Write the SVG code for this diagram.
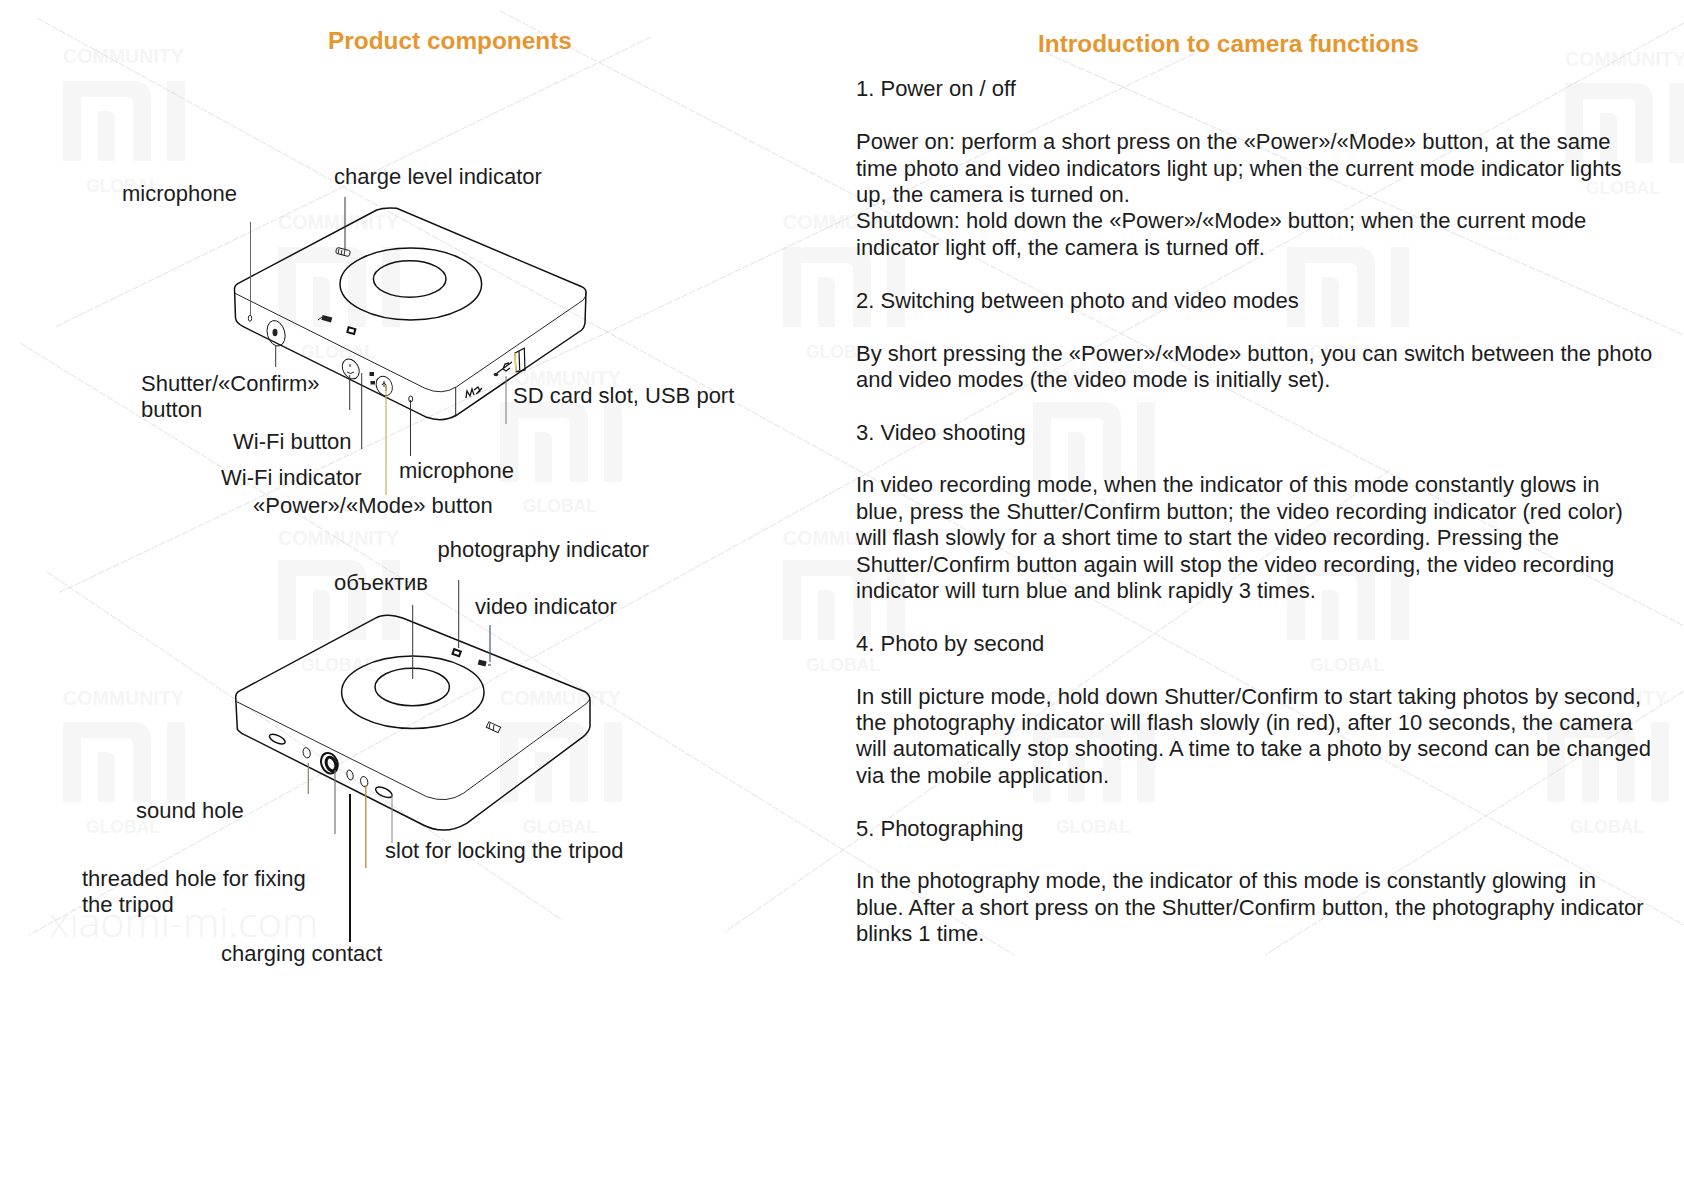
<svg xmlns="http://www.w3.org/2000/svg" width="1684" height="1191" viewBox="0 0 1684 1191">
<style>
text{font-family:"Liberation Sans",Arial,sans-serif;fill:#1c1c1c;font-size:22px}
.h{font-weight:700;fill:#e6962f;font-size:24.4px}
.wm{font-weight:700;fill:#f5f5f5;font-size:19.6px}
.wg{font-weight:700;fill:#f5f5f5;font-size:17.5px}
.url{fill:#f3f3f3;font-size:41px;font-family:"Open Sans","Liberation Sans",sans-serif;font-weight:300}
.logo{fill:#f6f6f6}
.mesh line{stroke:#d9d9d9;stroke-width:.8;stroke-dasharray:7 1.5}
.dv path,.dv ellipse,.dv rect{fill:none;stroke:#111;stroke-width:1.5}
.dv .thin{stroke-width:.9}
.dv .f{fill:#222;stroke:none}
.ld line{stroke:#333;stroke-width:1}
</style>
<defs>
<path id="mi" class="logo" fill-rule="evenodd" d="M0,0H70Q88,0 88,18V80H70V22Q70,16 64,16H18V80H0ZM35,30H44Q52,30 52,38V80H35ZM104,0H122V80H104Z"/>
</defs>
<rect width="1684" height="1191" fill="#fff"/>
<g id="watermark">
<use href="#mi" x="63" y="81"/><use href="#mi" x="278" y="247"/><use href="#mi" x="783" y="247"/><use href="#mi" x="1287" y="247"/><use href="#mi" x="1565" y="83"/><use href="#mi" x="500" y="402"/><use href="#mi" x="1033" y="402"/><use href="#mi" x="278" y="560"/><use href="#mi" x="783" y="560"/><use href="#mi" x="1287" y="560"/><use href="#mi" x="63" y="722"/><use href="#mi" x="500" y="722"/><use href="#mi" x="1033" y="722"/><use href="#mi" x="1547" y="722"/>
<text class="wm" x="63" y="63">COMMUNITY</text><text class="wm" x="278" y="229">COMMUNITY</text><text class="wm" x="783" y="229">COMMUNITY</text><text class="wm" x="1287" y="229">COMMUNITY</text><text class="wm" x="1565" y="66">COMMUNITY</text><text class="wm" x="500" y="385">COMMUNITY</text><text class="wm" x="1033" y="385">COMMUNITY</text><text class="wm" x="278" y="545">COMMUNITY</text><text class="wm" x="783" y="545">COMMUNITY</text><text class="wm" x="1287" y="545">COMMUNITY</text><text class="wm" x="63" y="705">COMMUNITY</text><text class="wm" x="500" y="705">COMMUNITY</text><text class="wm" x="1033" y="705">COMMUNITY</text><text class="wm" x="1547" y="705">COMMUNITY</text>
<text class="wg" x="86" y="192">GLOBAL</text><text class="wg" x="301" y="358">GLOBAL</text><text class="wg" x="806" y="358">GLOBAL</text><text class="wg" x="1310" y="358">GLOBAL</text><text class="wg" x="1586" y="194">GLOBAL</text><text class="wg" x="523" y="512">GLOBAL</text><text class="wg" x="1056" y="512">GLOBAL</text><text class="wg" x="301" y="671">GLOBAL</text><text class="wg" x="806" y="671">GLOBAL</text><text class="wg" x="1310" y="671">GLOBAL</text><text class="wg" x="86" y="833">GLOBAL</text><text class="wg" x="523" y="833">GLOBAL</text><text class="wg" x="1056" y="833">GLOBAL</text><text class="wg" x="1570" y="833">GLOBAL</text>
<text class="url" x="49" y="937">xiaomi-mi.com</text>
</g>
<g id="mesh" class="mesh">
<line x1="37" y1="18" x2="1684" y2="925"/>
<line x1="500" y1="11" x2="1684" y2="626"/>
<line x1="1039" y1="50" x2="1684" y2="335"/>
<line x1="20" y1="343" x2="1014" y2="955"/>
<line x1="47" y1="572" x2="562" y2="920"/>
<line x1="651" y1="37" x2="55" y2="327"/>
<line x1="1202" y1="50" x2="58" y2="593"/>
<line x1="1684" y1="23" x2="29" y2="935"/>
<line x1="1390" y1="470" x2="725" y2="932"/>
<line x1="1684" y1="691" x2="1265" y2="955"/>
</g>
<g id="camera-back" class="dv">
<path d="M234.5,288Q235,285 238.3,283.3L376.7,210Q385,207 396.7,208.3L581.7,286.7Q586,289 586,292L585,323.3Q584,328 581.7,330L456.7,415Q443,423 426.7,417.3L243.3,326.7Q236,323 235.5,318Z"/>
<path class="thin" d="M235,293.3L425,388.3Q442,396 456.7,386.7L583.3,300Q586,297 586,292"/>
<ellipse cx="410.8" cy="284" rx="70.8" ry="36"/>
<ellipse cx="409.7" cy="279" rx="36.3" ry="18.2"/>
<rect class="thin" x="336" y="249" width="14" height="6" rx="2" transform="rotate(15 343 252)"/>
<path class="thin" d="M339,249L338,254M342,250L341,255M345,250L344,255"/>
<ellipse class="thin" cx="250" cy="318.3" rx="1.7" ry="3"/>
<ellipse class="thin" cx="276" cy="333.3" rx="8.7" ry="13" transform="rotate(-15 276 333)"/>
<ellipse class="f" cx="275" cy="332.5" rx="2.5" ry="3.7"/>
<rect class="f" x="322" y="316" width="10" height="5" transform="rotate(15 326 318)"/>
<path class="thin" d="M318,320L322,317"/>
<rect class="thin" x="348" y="328" width="7" height="5" style="stroke-width:2" transform="rotate(15 351 330)"/>
<ellipse class="thin" cx="350.7" cy="369.3" rx="7.7" ry="10.5" transform="rotate(-30 350 369)"/>
<path class="thin" d="M347,372Q351,375 354,372M350,364V367"/>
<ellipse class="thin" cx="384.3" cy="386" rx="7.7" ry="10" transform="rotate(-25 384 386)"/>
<path class="thin" d="M382,385Q384,381 386,385V391M384,381V387"/>
<rect class="f" x="369.5" y="372" width="4.5" height="4"/>
<rect class="f" x="370.5" y="381" width="4.5" height="3.5"/>
<ellipse class="thin" cx="410.7" cy="399" rx="2" ry="3"/>
<path class="thin" d="M455.7,387V416.7"/>
<path class="thin" style="stroke-width:1.3" d="M466,398L467,391L470,396L472,389L474,395M474,390L478,387L480,391L476,394M478,392L482,388"/>
<path class="thin" style="stroke-width:1.3" d="M497,373L512,362M503,369L505,364L509,363M503,369L506,371L510,368"/>
<ellipse class="f" cx="496" cy="374.5" rx="2.4" ry="1.8"/>
<path class="thin" style="stroke-width:1.2" d="M515,353L524.3,348.3L525,370L516,371.7ZM519,351L519.7,370"/>
<path d="M515,353L515.7,371.7" style="stroke:#e5d060;stroke-width:1.5"/>
</g>
<g id="camera-front" class="dv">
<path d="M235.7,696.7Q236,693 238.3,691.7L375,618.3Q386,612 403.3,618.3L585,691.7Q590,695 590,700L590,726.7Q589,732 583.3,736.7L466.7,823.3Q445,836 423.3,825L241.7,733.3Q237,730 237.3,728.3Z"/>
<path class="thin" d="M236.7,701.7L426.7,796.7Q447,804 463.3,793.3L586.7,703.3Q590,700 590,697"/>
<ellipse cx="412.8" cy="692.2" rx="71.2" ry="36.2"/>
<ellipse cx="412.2" cy="687" rx="37.2" ry="18.7"/>
<ellipse cx="277.3" cy="739" rx="8.5" ry="3.6" transform="rotate(25 277 739)"/>
<ellipse class="thin" cx="306.7" cy="752.7" rx="3.5" ry="5.2" transform="rotate(-15 307 753)"/>
<ellipse cx="329.3" cy="763.3" rx="8" ry="10.5" style="stroke-width:2" transform="rotate(-20 329 763)"/>
<ellipse class="thin" cx="331" cy="764" rx="4.5" ry="7" style="stroke-width:3" transform="rotate(-20 331 764)"/>
<ellipse class="thin" cx="350" cy="775" rx="3" ry="5" transform="rotate(-15 350 775)"/>
<ellipse class="thin" cx="364.3" cy="781.7" rx="3.5" ry="5.2" transform="rotate(-15 364 782)"/>
<ellipse cx="384" cy="792.3" rx="9" ry="4" transform="rotate(25 384 792)"/>
<rect class="thin" x="453" y="650" width="7" height="5" style="stroke-width:2" transform="rotate(20 456 653)"/>
<rect class="f" x="478" y="661" width="8" height="5" transform="rotate(15 484 664)"/>
<path class="thin" d="M488,665H491"/>
<rect class="thin" x="487" y="724" width="13" height="6" transform="rotate(25 493 727)"/>
<path class="thin" d="M490,723L489,729M494,725L493,731"/>
</g>
<g id="connectors" class="ld">
<line x1="345" y1="197" x2="345" y2="250"/>
<line x1="250.500" y1="222" x2="250.500" y2="315" style="stroke:#666"/>
<line x1="275.700" y1="345" x2="275.700" y2="367"/>
<line x1="349.700" y1="375" x2="349.700" y2="410"/>
<line x1="361.700" y1="373" x2="361.700" y2="449"/>
<line x1="386" y1="385" x2="386" y2="495" style="stroke:#b9b95a;stroke-width:1.2"/>
<line x1="410.500" y1="400" x2="410.500" y2="456"/>
<line x1="506" y1="376" x2="506" y2="424" style="stroke:#777"/>
<line x1="412.700" y1="605" x2="412.700" y2="679"/>
<line x1="458.700" y1="580" x2="458.700" y2="648"/>
<line x1="490" y1="625" x2="490" y2="662" style="stroke:#4a5a80;stroke-width:1.2"/>
<line x1="308.300" y1="763" x2="308.300" y2="794" style="stroke:#8a8062;stroke-width:1.2"/>
<line x1="335" y1="770" x2="335" y2="834" style="stroke:#777;stroke-width:1.2"/>
<line x1="350" y1="794" x2="350" y2="942" style="stroke:#111;stroke-width:2"/>
<line x1="365.800" y1="785" x2="365.800" y2="868" style="stroke:#b98a3a;stroke-width:1.3"/>
<line x1="392" y1="795" x2="392" y2="843" style="stroke:#888"/>
</g>
<g id="labels">
<text class="h" x="328" y="49">Product components</text>
<text x="334" y="184">charge level indicator</text>
<text x="122" y="201">microphone</text>
<text x="141" y="391">Shutter/«Confirm»</text>
<text x="141" y="417">button</text>
<text x="233" y="449">Wi-Fi button</text>
<text x="221" y="485">Wi-Fi indicator</text>
<text x="399" y="478">microphone</text>
<text x="253" y="513">«Power»/«Mode» button</text>
<text x="513" y="403">SD card slot, USB port</text>
<text x="437.500" y="557">photography indicator</text>
<text x="334" y="590">объектив</text>
<text x="475" y="614">video indicator</text>
<text x="136" y="818">sound hole</text>
<text x="385" y="858">slot for locking the tripod</text>
<text x="82" y="886">threaded hole for fixing</text>
<text x="82" y="912">the tripod</text>
<text x="221" y="961">charging contact</text>
</g>
<g id="functions">
<text class="h" x="1038" y="52">Introduction to camera functions</text>
<text x="856" y="96">1. Power on / off</text>
<text x="856" y="149">Power on: perform a short press on the «Power»/«Mode» button, at the same</text>
<text x="856" y="176">time photo and video indicators light up; when the current mode indicator lights</text>
<text x="856" y="202">up, the camera is turned on.</text>
<text x="856" y="228">Shutdown: hold down the «Power»/«Mode» button; when the current mode</text>
<text x="856" y="255">indicator light off, the camera is turned off.</text>
<text x="856" y="308">2. Switching between photo and video modes</text>
<text x="856" y="361">By short pressing the «Power»/«Mode» button, you can switch between the photo</text>
<text x="856" y="387">and video modes (the video mode is initially set).</text>
<text x="856" y="440">3. Video shooting</text>
<text x="856" y="492">In video recording mode, when the indicator of this mode constantly glows in</text>
<text x="856" y="519">blue, press the Shutter/Confirm button; the video recording indicator (red color)</text>
<text x="856" y="545">will flash slowly for a short time to start the video recording. Pressing the</text>
<text x="856" y="572">Shutter/Confirm button again will stop the video recording, the video recording</text>
<text x="856" y="598">indicator will turn blue and blink rapidly 3 times.</text>
<text x="856" y="651">4. Photo by second</text>
<text x="856" y="704">In still picture mode, hold down Shutter/Confirm to start taking photos by second,</text>
<text x="856" y="730">the photography indicator will flash slowly (in red), after 10 seconds, the camera</text>
<text x="856" y="756">will automatically stop shooting. A time to take a photo by second can be changed</text>
<text x="856" y="783">via the mobile application.</text>
<text x="856" y="836">5. Photographing</text>
<text x="856" y="888" xml:space="preserve">In the photography mode, the indicator of this mode is constantly glowing  in</text>
<text x="856" y="915">blue. After a short press on the Shutter/Confirm button, the photography indicator</text>
<text x="856" y="941">blinks 1 time.</text>
</g>
</svg>
